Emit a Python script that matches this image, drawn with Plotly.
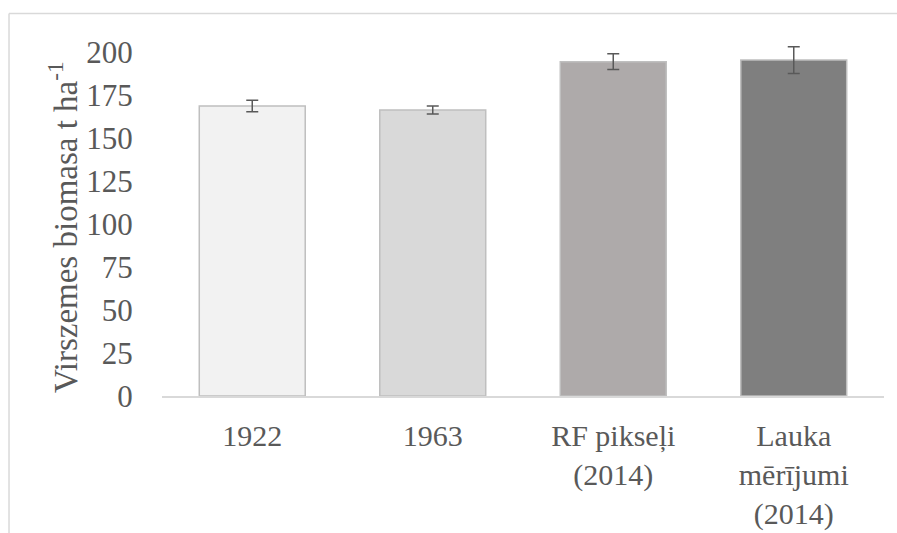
import plotly.graph_objects as go

categories = ["1922", "1963", "RF pikseļi<br>(2014)", "Lauka<br>mērījumi<br>(2014)"]
biomass = [168.6, 166.3, 194.4, 195.3]
errors = [3.3, 2.3, 4.6, 7.8]
bar_colors = ["#f2f2f2", "#d9d9d9", "#aeaaaa", "#7f7f7f"]
y_ticks = [0, 25, 50, 75, 100, 125, 150, 175, 200]

FONT = "Liberation Serif, Times New Roman, serif"
TXT = "#595959"

fig = go.Figure(go.Bar(
    x=categories, y=biomass,
    marker=dict(color=bar_colors, line=dict(color="#bfbfbf", width=1.5)),
    error_y=dict(type="data", array=errors, color="#595959", thickness=1.5, width=6),
    width=0.587,
))

fig.update_layout(
    width=897, height=533,
    margin=dict(l=162, r=13, t=40, b=137),
    paper_bgcolor="white", plot_bgcolor="white",
    showlegend=False,
    font=dict(family=FONT, color=TXT, size=30),
    xaxis=dict(showline=True, linecolor="#d9d9d9", linewidth=1.5, showgrid=False,
               automargin=False,
               ticks="outside", ticklen=12, tickcolor="rgba(0,0,0,0)",
               tickfont=dict(size=30, color=TXT, family=FONT)),
    yaxis=dict(range=[0, 207], tickvals=y_ticks, showgrid=False, zeroline=False,
               automargin=False,
               showline=False, ticks="outside", ticklen=22, tickcolor="rgba(0,0,0,0)",
               tickfont=dict(size=31, color=TXT, family=FONT)),
    annotations=[dict(text="Virszemes biomasa t ha<sup>-1</sup>", textangle=-90,
                      xref="paper", yref="paper", x=-0.137, y=0.4747,
                      xanchor="center", yanchor="middle", showarrow=False,
                      font=dict(size=33, color=TXT, family=FONT))],
    shapes=[
        dict(type="line", xref="paper", yref="paper", x0=-0.2119, x1=1.2, y0=1.0744, y1=1.0744,
             line=dict(color="#d9d9d9", width=1.5)),
        dict(type="line", xref="paper", yref="paper", x0=-0.2119, x1=-0.2119, y0=-0.5, y1=1.0744,
             line=dict(color="#d9d9d9", width=1.5)),
    ],
)

fig.write_html("out.html", config={"displayModeBar": False},
               post_script="document.body.style.margin='0';")
